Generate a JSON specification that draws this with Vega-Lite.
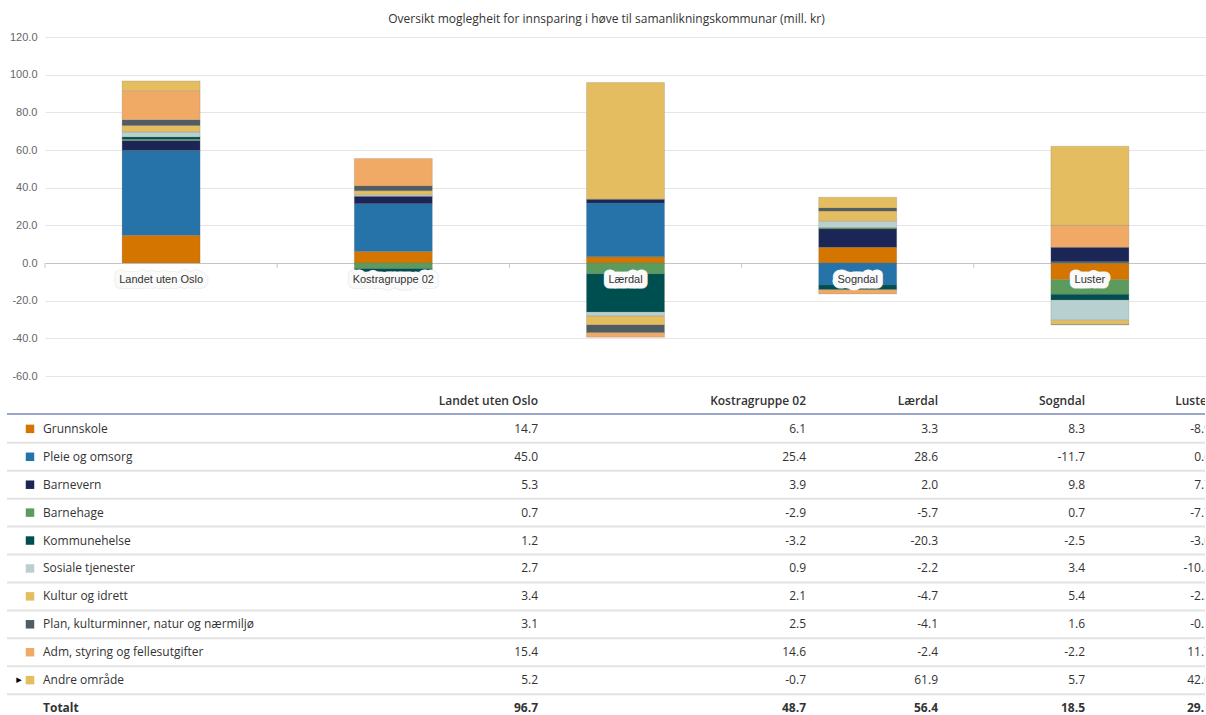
{
  "$schema": "https://vega.github.io/schema/vega-lite/v6.json",
  "padding": {"left": 6, "top": 13, "right": 0, "bottom": 0},
  "background": "white",
  "config": {
    "view": {"stroke": null},
    "locale": {"number": {"decimal": ".", "thousands": ",", "grouping": [3], "currency": ["", ""], "minus": "-"}}
  },
  "datasets": {
    "rader": [
      {"kommune": "Landet uten Oslo", "omrade": "Grunnskole", "verdi": 14.7},
      {"kommune": "Landet uten Oslo", "omrade": "Pleie og omsorg", "verdi": 45.0},
      {"kommune": "Landet uten Oslo", "omrade": "Barnevern", "verdi": 5.3},
      {"kommune": "Landet uten Oslo", "omrade": "Barnehage", "verdi": 0.7},
      {"kommune": "Landet uten Oslo", "omrade": "Kommunehelse", "verdi": 1.2},
      {"kommune": "Landet uten Oslo", "omrade": "Sosiale tjenester", "verdi": 2.7},
      {"kommune": "Landet uten Oslo", "omrade": "Kultur og idrett", "verdi": 3.4},
      {"kommune": "Landet uten Oslo", "omrade": "Plan, kulturminner, natur og nærmiljø", "verdi": 3.1},
      {"kommune": "Landet uten Oslo", "omrade": "Adm, styring og fellesutgifter", "verdi": 15.4},
      {"kommune": "Landet uten Oslo", "omrade": "Andre område", "verdi": 5.2},
      {"kommune": "Landet uten Oslo", "omrade": "Totalt", "verdi": 96.7},
      {"kommune": "Kostragruppe 02", "omrade": "Grunnskole", "verdi": 6.1},
      {"kommune": "Kostragruppe 02", "omrade": "Pleie og omsorg", "verdi": 25.4},
      {"kommune": "Kostragruppe 02", "omrade": "Barnevern", "verdi": 3.9},
      {"kommune": "Kostragruppe 02", "omrade": "Barnehage", "verdi": -2.9},
      {"kommune": "Kostragruppe 02", "omrade": "Kommunehelse", "verdi": -3.2},
      {"kommune": "Kostragruppe 02", "omrade": "Sosiale tjenester", "verdi": 0.9},
      {"kommune": "Kostragruppe 02", "omrade": "Kultur og idrett", "verdi": 2.1},
      {"kommune": "Kostragruppe 02", "omrade": "Plan, kulturminner, natur og nærmiljø", "verdi": 2.5},
      {"kommune": "Kostragruppe 02", "omrade": "Adm, styring og fellesutgifter", "verdi": 14.6},
      {"kommune": "Kostragruppe 02", "omrade": "Andre område", "verdi": -0.7},
      {"kommune": "Kostragruppe 02", "omrade": "Totalt", "verdi": 48.7},
      {"kommune": "Lærdal", "omrade": "Grunnskole", "verdi": 3.3},
      {"kommune": "Lærdal", "omrade": "Pleie og omsorg", "verdi": 28.6},
      {"kommune": "Lærdal", "omrade": "Barnevern", "verdi": 2.0},
      {"kommune": "Lærdal", "omrade": "Barnehage", "verdi": -5.7},
      {"kommune": "Lærdal", "omrade": "Kommunehelse", "verdi": -20.3},
      {"kommune": "Lærdal", "omrade": "Sosiale tjenester", "verdi": -2.2},
      {"kommune": "Lærdal", "omrade": "Kultur og idrett", "verdi": -4.7},
      {"kommune": "Lærdal", "omrade": "Plan, kulturminner, natur og nærmiljø", "verdi": -4.1},
      {"kommune": "Lærdal", "omrade": "Adm, styring og fellesutgifter", "verdi": -2.4},
      {"kommune": "Lærdal", "omrade": "Andre område", "verdi": 61.9},
      {"kommune": "Lærdal", "omrade": "Totalt", "verdi": 56.4},
      {"kommune": "Sogndal", "omrade": "Grunnskole", "verdi": 8.3},
      {"kommune": "Sogndal", "omrade": "Pleie og omsorg", "verdi": -11.7},
      {"kommune": "Sogndal", "omrade": "Barnevern", "verdi": 9.8},
      {"kommune": "Sogndal", "omrade": "Barnehage", "verdi": 0.7},
      {"kommune": "Sogndal", "omrade": "Kommunehelse", "verdi": -2.5},
      {"kommune": "Sogndal", "omrade": "Sosiale tjenester", "verdi": 3.4},
      {"kommune": "Sogndal", "omrade": "Kultur og idrett", "verdi": 5.4},
      {"kommune": "Sogndal", "omrade": "Plan, kulturminner, natur og nærmiljø", "verdi": 1.6},
      {"kommune": "Sogndal", "omrade": "Adm, styring og fellesutgifter", "verdi": -2.2},
      {"kommune": "Sogndal", "omrade": "Andre område", "verdi": 5.7},
      {"kommune": "Sogndal", "omrade": "Totalt", "verdi": 18.5},
      {"kommune": "Luster", "omrade": "Grunnskole", "verdi": -8.9},
      {"kommune": "Luster", "omrade": "Pleie og omsorg", "verdi": 0.6},
      {"kommune": "Luster", "omrade": "Barnevern", "verdi": 7.7},
      {"kommune": "Luster", "omrade": "Barnehage", "verdi": -7.7},
      {"kommune": "Luster", "omrade": "Kommunehelse", "verdi": -3.0},
      {"kommune": "Luster", "omrade": "Sosiale tjenester", "verdi": -10.8},
      {"kommune": "Luster", "omrade": "Kultur og idrett", "verdi": -2.3},
      {"kommune": "Luster", "omrade": "Plan, kulturminner, natur og nærmiljø", "verdi": -0.1},
      {"kommune": "Luster", "omrade": "Adm, styring og fellesutgifter", "verdi": 11.7},
      {"kommune": "Luster", "omrade": "Andre område", "verdi": 42.0},
      {"kommune": "Luster", "omrade": "Totalt", "verdi": 29.1}
    ]
  },
  "spacing": 12,
  "vconcat": [
    {
      "title": {"text": "Oversikt moglegheit for innsparing i høve til samanlikningskommunar (mill. kr)", "font": "Open Sans", "fontSize": 12, "fontWeight": "normal", "color": "#333333", "anchor": "middle", "frame": "bounds", "offset": 5},
      "width": 1199,
      "height": 339,
      "data": {"name": "rader"},
      "transform": [
        {"filter": "datum.omrade !== 'Totalt'"},
        {"calculate": "indexof(['Grunnskole','Pleie og omsorg','Barnevern','Barnehage','Kommunehelse','Sosiale tjenester','Kultur og idrett','Plan, kulturminner, natur og nærmiljø','Adm, styring og fellesutgifter','Andre område'], datum.omrade)", "as": "nr"}
      ],
      "resolve": {"axis": {"y": "independent"}},
      "encoding": {
        "x": {"field": "kommune", "type": "nominal", "sort": ["Landet uten Oslo", "Kostragruppe 02", "Lærdal", "Sogndal", "Luster"], "scale": {"range": [38, 1199], "paddingInner": 0.664, "paddingOuter": 0.332}, "axis": null}
      },
      "layer": [
        {
          "mark": {"type": "bar", "stroke": "#707070", "strokeOpacity": 0.3, "strokeWidth": 0.7},
          "encoding": {
            "y": {"field": "verdi", "type": "quantitative", "stack": "zero", "scale": {"domain": [-60, 120], "nice": false, "zero": false},
              "axis": {"title": null, "values": [-60, -40, -20, 0, 20, 40, 60, 80, 100, 120], "format": ".1f", "offset": -38, "labelOverlap": false, "labelSeparation": 0, "labelFont": "Liberation Sans", "labelFontSize": 11, "labelColor": "#666666", "labelPadding": 8, "ticks": false, "domain": false,
                "gridColor": {"condition": {"test": "datum.value === 0", "value": "#c4c4c4"}, "value": "#e6e6e6"}, "gridWidth": 1}},
            "color": {"field": "omrade", "type": "nominal", "legend": null,
              "scale": {"domain": ["Grunnskole", "Pleie og omsorg", "Barnevern", "Barnehage", "Kommunehelse", "Sosiale tjenester", "Kultur og idrett", "Plan, kulturminner, natur og nærmiljø", "Adm, styring og fellesutgifter", "Andre område"],
                "range": ["#d47500", "#2573a8", "#1b2656", "#5b9b5d", "#004f50", "#b9d0d1", "#e3bd60", "#4f5d62", "#f1aa66", "#e3bd60"]}},
            "order": {"field": "nr", "type": "quantitative", "sort": "ascending"}
          }
        },
        {
          "transform": [{"filter": "datum.omrade === 'Grunnskole'"}],
          "mark": {"type": "rule", "color": "#c4c4c4", "strokeWidth": 1},
          "encoding": {
            "x": {"field": "kommune", "type": "nominal", "bandPosition": -0.988, "axis": null, "sort": ["Landet uten Oslo", "Kostragruppe 02", "Lærdal", "Sogndal", "Luster"]},
            "y": {"datum": 0, "type": "quantitative", "axis": null},
            "y2": {"datum": -2.5}
          }
        },
        {
          "transform": [{"filter": "datum.omrade === 'Grunnskole'"}],
          "mark": {"type": "text", "font": "Liberation Sans", "fontSize": 11, "dy": 17, "fill": "#e6e6e6", "stroke": "#e6e6e6", "strokeWidth": 11, "strokeJoin": "round"},
          "encoding": {"y": {"datum": 0, "type": "quantitative", "axis": null}, "text": {"field": "kommune"}}
        },
        {
          "transform": [{"filter": "datum.omrade === 'Grunnskole'"}],
          "mark": {"type": "text", "font": "Liberation Sans", "fontSize": 11, "dy": 17, "fill": "#fafafa", "stroke": "#fafafa", "strokeWidth": 10, "strokeJoin": "round"},
          "encoding": {"y": {"datum": 0, "type": "quantitative", "axis": null}, "text": {"field": "kommune"}}
        },
        {
          "transform": [{"filter": "datum.omrade === 'Grunnskole'"}],
          "mark": {"type": "text", "font": "Liberation Sans", "fontSize": 11, "dy": 17, "color": "#333333"},
          "encoding": {"y": {"datum": 0, "type": "quantitative", "axis": null}, "text": {"field": "kommune"}}
        }
      ]
    },
    {
      "spacing": 0,
      "bounds": "flush",
      "hconcat": [
        {
          "width": 46, "height": 323,
          "data": {"name": "rader"},
          "transform": [{"filter": "datum.kommune === 'Landet uten Oslo'"}],
          "encoding": {"y": {"field": "omrade", "type": "nominal", "axis": null, "scale": {"type": "point", "padding": 0.285, "domain": ["hovud", "Grunnskole", "Pleie og omsorg", "Barnevern", "Barnehage", "Kommunehelse", "Sosiale tjenester", "Kultur og idrett", "Plan, kulturminner, natur og nærmiljø", "Adm, styring og fellesutgifter", "Andre område", "Totalt"]}}},
          "layer": [
            {"transform": [{"filter": "datum.omrade !== 'Totalt'"}], "mark": {"type": "rule", "color": "#e3e3e3", "strokeWidth": 2, "yOffset": 14}},
            {"transform": [{"filter": "datum.omrade === 'Totalt'"}], "mark": {"type": "rule", "color": "#7b88bb", "strokeWidth": 1.5, "yOffset": 13}, "encoding": {"y": {"datum": "hovud"}}},
            {"transform": [{"filter": "datum.omrade !== 'Totalt'"}], "mark": {"type": "square", "size": 72, "opacity": 1, "filled": true},
              "encoding": {"color": {"field": "omrade", "type": "nominal", "legend": null,
                "scale": {"domain": ["Grunnskole", "Pleie og omsorg", "Barnevern", "Barnehage", "Kommunehelse", "Sosiale tjenester", "Kultur og idrett", "Plan, kulturminner, natur og nærmiljø", "Adm, styring og fellesutgifter", "Andre område"],
                  "range": ["#d47500", "#2573a8", "#1b2656", "#5b9b5d", "#004f50", "#b9d0d1", "#e3bd60", "#4f5d62", "#f1aa66", "#e3bd60"]}}}},
            {"transform": [{"filter": "datum.omrade === 'Andre område'"}], "mark": {"type": "text", "text": "▸", "fontSize": 11, "color": "#000000", "dx": -11, "font": "DejaVu Sans"}}
          ]
        },
        {
          "width": 347, "height": 323,
          "data": {"name": "rader"},
          "transform": [{"filter": "datum.kommune === 'Landet uten Oslo'"}],
          "encoding": {"y": {"field": "omrade", "type": "nominal", "axis": null, "scale": {"type": "point", "padding": 0.285, "domain": ["hovud", "Grunnskole", "Pleie og omsorg", "Barnevern", "Barnehage", "Kommunehelse", "Sosiale tjenester", "Kultur og idrett", "Plan, kulturminner, natur og nærmiljø", "Adm, styring og fellesutgifter", "Andre område", "Totalt"]}}},
          "layer": [
            {"transform": [{"filter": "datum.omrade !== 'Totalt'"}], "mark": {"type": "rule", "color": "#e3e3e3", "strokeWidth": 2, "yOffset": 14}},
            {"transform": [{"filter": "datum.omrade === 'Totalt'"}], "mark": {"type": "rule", "color": "#7b88bb", "strokeWidth": 1.5, "yOffset": 13}, "encoding": {"y": {"datum": "hovud"}}},
            {"transform": [{"filter": "datum.omrade !== 'Totalt'"}], "mark": {"type": "text", "align": "left", "dx": -10, "font": "Open Sans", "fontSize": 12, "color": "#333333"}, "encoding": {"x": {"value": 0}, "text": {"field": "omrade"}}},
            {"transform": [{"filter": "datum.omrade === 'Totalt'"}], "mark": {"type": "text", "align": "left", "dx": -10, "font": "Open Sans", "fontSize": 12, "fontWeight": 700, "color": "#333333"}, "encoding": {"x": {"value": 0}, "text": {"field": "omrade"}}}
          ]
        },
        {
          "width": 138, "height": 323,
          "data": {"name": "rader"},
          "transform": [{"filter": "datum.kommune === 'Landet uten Oslo'"}],
          "encoding": {"y": {"field": "omrade", "type": "nominal", "axis": null, "scale": {"type": "point", "padding": 0.285, "domain": ["hovud", "Grunnskole", "Pleie og omsorg", "Barnevern", "Barnehage", "Kommunehelse", "Sosiale tjenester", "Kultur og idrett", "Plan, kulturminner, natur og nærmiljø", "Adm, styring og fellesutgifter", "Andre område", "Totalt"]}}},
          "layer": [
            {"transform": [{"filter": "datum.omrade !== 'Totalt'"}], "mark": {"type": "rule", "color": "#e3e3e3", "strokeWidth": 2, "yOffset": 14}},
            {"transform": [{"filter": "datum.omrade === 'Totalt'"}], "mark": {"type": "rule", "color": "#7b88bb", "strokeWidth": 1.5, "yOffset": 13}, "encoding": {"y": {"datum": "hovud"}}},
            {"transform": [{"filter": "datum.omrade === 'Totalt'"}], "mark": {"type": "text", "align": "right", "font": "Open Sans", "fontSize": 12, "fontWeight": 600, "color": "#333333"}, "encoding": {"x": {"value": "width"}, "y": {"datum": "hovud"}, "text": {"field": "kommune"}}},
            {"transform": [{"filter": "datum.omrade !== 'Totalt'"}], "mark": {"type": "text", "align": "right", "font": "Open Sans", "fontSize": 12, "color": "#333333"}, "encoding": {"x": {"value": "width"}, "text": {"field": "verdi", "type": "quantitative", "format": ".1f"}}},
            {"transform": [{"filter": "datum.omrade === 'Totalt'"}], "mark": {"type": "text", "align": "right", "font": "Open Sans", "fontSize": 12, "fontWeight": 700, "color": "#333333"}, "encoding": {"x": {"value": "width"}, "text": {"field": "verdi", "type": "quantitative", "format": ".1f"}}}
          ]
        },
        {
          "width": 268, "height": 323,
          "data": {"name": "rader"},
          "transform": [{"filter": "datum.kommune === 'Kostragruppe 02'"}],
          "encoding": {"y": {"field": "omrade", "type": "nominal", "axis": null, "scale": {"type": "point", "padding": 0.285, "domain": ["hovud", "Grunnskole", "Pleie og omsorg", "Barnevern", "Barnehage", "Kommunehelse", "Sosiale tjenester", "Kultur og idrett", "Plan, kulturminner, natur og nærmiljø", "Adm, styring og fellesutgifter", "Andre område", "Totalt"]}}},
          "layer": [
            {"transform": [{"filter": "datum.omrade !== 'Totalt'"}], "mark": {"type": "rule", "color": "#e3e3e3", "strokeWidth": 2, "yOffset": 14}},
            {"transform": [{"filter": "datum.omrade === 'Totalt'"}], "mark": {"type": "rule", "color": "#7b88bb", "strokeWidth": 1.5, "yOffset": 13}, "encoding": {"y": {"datum": "hovud"}}},
            {"transform": [{"filter": "datum.omrade === 'Totalt'"}], "mark": {"type": "text", "align": "right", "font": "Open Sans", "fontSize": 12, "fontWeight": 600, "color": "#333333"}, "encoding": {"x": {"value": "width"}, "y": {"datum": "hovud"}, "text": {"field": "kommune"}}},
            {"transform": [{"filter": "datum.omrade !== 'Totalt'"}], "mark": {"type": "text", "align": "right", "font": "Open Sans", "fontSize": 12, "color": "#333333"}, "encoding": {"x": {"value": "width"}, "text": {"field": "verdi", "type": "quantitative", "format": ".1f"}}},
            {"transform": [{"filter": "datum.omrade === 'Totalt'"}], "mark": {"type": "text", "align": "right", "font": "Open Sans", "fontSize": 12, "fontWeight": 700, "color": "#333333"}, "encoding": {"x": {"value": "width"}, "text": {"field": "verdi", "type": "quantitative", "format": ".1f"}}}
          ]
        },
        {
          "width": 132, "height": 323,
          "data": {"name": "rader"},
          "transform": [{"filter": "datum.kommune === 'Lærdal'"}],
          "encoding": {"y": {"field": "omrade", "type": "nominal", "axis": null, "scale": {"type": "point", "padding": 0.285, "domain": ["hovud", "Grunnskole", "Pleie og omsorg", "Barnevern", "Barnehage", "Kommunehelse", "Sosiale tjenester", "Kultur og idrett", "Plan, kulturminner, natur og nærmiljø", "Adm, styring og fellesutgifter", "Andre område", "Totalt"]}}},
          "layer": [
            {"transform": [{"filter": "datum.omrade !== 'Totalt'"}], "mark": {"type": "rule", "color": "#e3e3e3", "strokeWidth": 2, "yOffset": 14}},
            {"transform": [{"filter": "datum.omrade === 'Totalt'"}], "mark": {"type": "rule", "color": "#7b88bb", "strokeWidth": 1.5, "yOffset": 13}, "encoding": {"y": {"datum": "hovud"}}},
            {"transform": [{"filter": "datum.omrade === 'Totalt'"}], "mark": {"type": "text", "align": "right", "font": "Open Sans", "fontSize": 12, "fontWeight": 600, "color": "#333333"}, "encoding": {"x": {"value": "width"}, "y": {"datum": "hovud"}, "text": {"field": "kommune"}}},
            {"transform": [{"filter": "datum.omrade !== 'Totalt'"}], "mark": {"type": "text", "align": "right", "font": "Open Sans", "fontSize": 12, "color": "#333333"}, "encoding": {"x": {"value": "width"}, "text": {"field": "verdi", "type": "quantitative", "format": ".1f"}}},
            {"transform": [{"filter": "datum.omrade === 'Totalt'"}], "mark": {"type": "text", "align": "right", "font": "Open Sans", "fontSize": 12, "fontWeight": 700, "color": "#333333"}, "encoding": {"x": {"value": "width"}, "text": {"field": "verdi", "type": "quantitative", "format": ".1f"}}}
          ]
        },
        {
          "width": 147, "height": 323,
          "data": {"name": "rader"},
          "transform": [{"filter": "datum.kommune === 'Sogndal'"}],
          "encoding": {"y": {"field": "omrade", "type": "nominal", "axis": null, "scale": {"type": "point", "padding": 0.285, "domain": ["hovud", "Grunnskole", "Pleie og omsorg", "Barnevern", "Barnehage", "Kommunehelse", "Sosiale tjenester", "Kultur og idrett", "Plan, kulturminner, natur og nærmiljø", "Adm, styring og fellesutgifter", "Andre område", "Totalt"]}}},
          "layer": [
            {"transform": [{"filter": "datum.omrade !== 'Totalt'"}], "mark": {"type": "rule", "color": "#e3e3e3", "strokeWidth": 2, "yOffset": 14}},
            {"transform": [{"filter": "datum.omrade === 'Totalt'"}], "mark": {"type": "rule", "color": "#7b88bb", "strokeWidth": 1.5, "yOffset": 13}, "encoding": {"y": {"datum": "hovud"}}},
            {"transform": [{"filter": "datum.omrade === 'Totalt'"}], "mark": {"type": "text", "align": "right", "font": "Open Sans", "fontSize": 12, "fontWeight": 600, "color": "#333333"}, "encoding": {"x": {"value": "width"}, "y": {"datum": "hovud"}, "text": {"field": "kommune"}}},
            {"transform": [{"filter": "datum.omrade !== 'Totalt'"}], "mark": {"type": "text", "align": "right", "font": "Open Sans", "fontSize": 12, "color": "#333333"}, "encoding": {"x": {"value": "width"}, "text": {"field": "verdi", "type": "quantitative", "format": ".1f"}}},
            {"transform": [{"filter": "datum.omrade === 'Totalt'"}], "mark": {"type": "text", "align": "right", "font": "Open Sans", "fontSize": 12, "fontWeight": 700, "color": "#333333"}, "encoding": {"x": {"value": "width"}, "text": {"field": "verdi", "type": "quantitative", "format": ".1f"}}}
          ]
        },
        {
          "width": 120, "height": 323,
          "data": {"name": "rader"},
          "transform": [{"filter": "datum.kommune === 'Luster'"}],
          "encoding": {"y": {"field": "omrade", "type": "nominal", "axis": null, "scale": {"type": "point", "padding": 0.285, "domain": ["hovud", "Grunnskole", "Pleie og omsorg", "Barnevern", "Barnehage", "Kommunehelse", "Sosiale tjenester", "Kultur og idrett", "Plan, kulturminner, natur og nærmiljø", "Adm, styring og fellesutgifter", "Andre område", "Totalt"]}}},
          "layer": [
            {"transform": [{"filter": "datum.omrade !== 'Totalt'"}], "mark": {"type": "rule", "color": "#e3e3e3", "strokeWidth": 2, "yOffset": 14}},
            {"transform": [{"filter": "datum.omrade === 'Totalt'"}], "mark": {"type": "rule", "color": "#7b88bb", "strokeWidth": 1.5, "yOffset": 13}, "encoding": {"y": {"datum": "hovud"}}},
            {"transform": [{"filter": "datum.omrade === 'Totalt'"}], "mark": {"type": "text", "align": "right", "dx": 7, "clip": true, "font": "Open Sans", "fontSize": 12, "fontWeight": 600, "color": "#333333"}, "encoding": {"x": {"value": "width"}, "y": {"datum": "hovud"}, "text": {"field": "kommune"}}},
            {"transform": [{"filter": "datum.omrade !== 'Totalt'"}], "mark": {"type": "text", "align": "right", "dx": 6, "clip": true, "font": "Open Sans", "fontSize": 12, "color": "#333333"}, "encoding": {"x": {"value": "width"}, "text": {"field": "verdi", "type": "quantitative", "format": ".1f"}}},
            {"transform": [{"filter": "datum.omrade === 'Totalt'"}], "mark": {"type": "text", "align": "right", "dx": 6, "clip": true, "font": "Open Sans", "fontSize": 12, "fontWeight": 700, "color": "#333333"}, "encoding": {"x": {"value": "width"}, "text": {"field": "verdi", "type": "quantitative", "format": ".1f"}}}
          ]
        }
      ]
    }
  ]
}
